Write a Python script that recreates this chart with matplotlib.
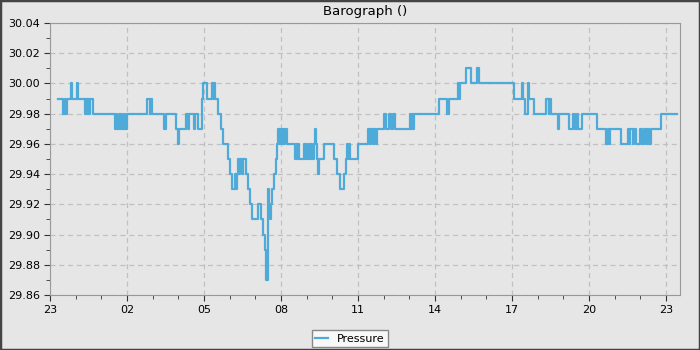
import numpy as np
import matplotlib.pyplot as plt
from matplotlib.patches import Rectangle
from matplotlib.ticker import MultipleLocator, FormatStrFormatter

hours = [0.32, 0.52, 0.57, 0.60, 0.65, 0.82, 0.86, 1.06, 1.10, 1.36, 1.40, 1.43,
         1.46, 1.52, 1.55, 1.66, 2.53, 2.58, 2.62, 2.68, 2.72, 2.78, 2.82, 2.88,
         2.92, 2.99, 3.77, 3.88, 3.92, 3.98, 4.44, 4.51, 4.92, 4.97, 5.01, 5.31,
         5.38, 5.41, 5.62, 5.66, 5.75, 5.92, 5.94, 5.97, 6.12, 6.30, 6.35, 6.38,
         6.42, 6.55, 6.68, 6.75, 6.95, 7.03, 7.10, 7.20, 7.24, 7.27, 7.33, 7.38,
         7.42, 7.46, 7.50, 7.62, 7.73, 7.79, 7.88, 8.12, 8.20, 8.31, 8.36, 8.41,
         8.48, 8.51, 8.54, 8.57, 8.60, 8.66, 8.72, 8.79, 8.85, 8.90, 8.94, 8.97,
         9.03, 9.07, 9.12, 9.16, 9.22, 9.29, 9.55, 9.58, 9.62, 9.66, 9.70, 9.90,
         9.94, 9.98, 10.03, 10.07, 10.12, 10.16, 10.22, 10.28, 10.32, 10.36, 10.40,
         10.42, 10.46, 10.66, 11.08, 11.18, 11.31, 11.44, 11.52, 11.58, 11.62,
         11.66, 11.70, 11.98, 12.40, 12.46, 12.50, 12.58, 12.62, 12.68, 12.74,
         13.02, 13.08, 13.22, 13.28, 13.38, 13.44, 14.02, 14.06, 14.10, 14.14,
         14.18, 15.14, 15.48, 15.55, 15.88, 15.92, 15.96, 16.22, 16.40, 16.64,
         16.70, 18.08, 18.38, 18.42, 18.52, 18.60, 18.62, 18.66, 18.86, 19.32,
         19.42, 19.45, 19.52, 19.78, 19.84, 20.20, 20.38, 20.44, 20.52, 20.56,
         20.74, 21.30, 21.64, 21.72, 21.76, 21.82, 22.26, 22.50, 22.55, 22.60,
         22.70, 22.76, 22.84, 22.98, 23.06, 23.12, 23.20, 23.26, 23.32, 23.40,
         23.80, 24.43]
pressure = [29.99, 29.98, 29.99, 29.98, 29.99, 30.00, 29.99, 30.00, 29.99, 29.98, 29.99, 29.98,
            29.99, 29.98, 29.99, 29.98, 29.97, 29.98, 29.97, 29.98, 29.97, 29.98, 29.97, 29.98,
            29.97, 29.98, 29.99, 29.98, 29.99, 29.98, 29.97, 29.98, 29.97, 29.96, 29.97, 29.98,
            29.97, 29.98, 29.97, 29.98, 29.97, 29.98, 29.99, 30.00, 29.99, 30.00, 29.99, 30.00,
            29.99, 29.98, 29.97, 29.96, 29.95, 29.94, 29.93, 29.94, 29.93, 29.94, 29.95, 29.94,
            29.95, 29.94, 29.95, 29.94, 29.93, 29.92, 29.91, 29.92, 29.91, 29.90, 29.89, 29.87,
            29.88, 29.93, 29.92, 29.91, 29.92, 29.93, 29.94, 29.95, 29.96, 29.97, 29.96, 29.97,
            29.96, 29.97, 29.96, 29.97, 29.96, 29.96, 29.95, 29.96, 29.95, 29.96, 29.95, 29.96,
            29.95, 29.96, 29.95, 29.96, 29.95, 29.96, 29.95, 29.96, 29.97, 29.96, 29.95,
            29.94, 29.95, 29.96, 29.95, 29.94, 29.93, 29.94, 29.95, 29.96, 29.95,
            29.96, 29.95, 29.96, 29.97, 29.96, 29.97, 29.96, 29.97, 29.96, 29.97,
            29.98, 29.97, 29.98, 29.97, 29.98, 29.97, 29.98, 29.97, 29.98, 29.97,
            29.98, 29.99, 29.98, 29.99, 30.00, 29.99, 30.00, 30.01, 30.00, 30.01,
            30.00, 29.99, 30.00, 29.99, 29.98, 29.99, 30.00, 29.99, 29.98, 29.99,
            29.98, 29.99, 29.98, 29.97, 29.98, 29.97, 29.98, 29.97, 29.98, 29.97,
            29.98, 29.97, 29.96, 29.97, 29.96, 29.97, 29.96, 29.97, 29.96, 29.97,
            29.96, 29.97, 29.96, 29.97, 29.96, 29.97, 29.96, 29.97, 29.96, 29.97,
            29.98, 29.98]

tick_hours = [0, 3, 6, 9, 12, 15, 18, 21, 24]
tick_labels = ['23', '02', '05', '08', '11', '14', '17', '20', '23']

bg = '#e6e6e6'
line_col = '#4eaad8'

fig = plt.figure(figsize=(7, 3.5), dpi=100)
fig.patch.set_facecolor(bg)
fig.patches.append(Rectangle((0, 0), 1, 1, transform=fig.transFigure,
                             fill=False, edgecolor='#444444', linewidth=2.5))

ax = fig.add_axes([50/700, 1 - 295/350, 630/700, 272/350])
ax.set_facecolor(bg)

ax.plot(hours, pressure, drawstyle='steps-post', color=line_col, lw=1.6,
        label='Pressure')

ax.set_xlim(0, 24.54)
ax.set_ylim(29.86, 30.04)
ax.set_xticks(tick_hours)
ax.set_xticklabels(tick_labels)
ax.xaxis.set_minor_locator(MultipleLocator(1))
ax.yaxis.set_major_locator(MultipleLocator(0.02))
ax.yaxis.set_minor_locator(MultipleLocator(0.01))
ax.yaxis.set_major_formatter(FormatStrFormatter('%.2f'))

for s in ax.spines.values():
    s.set_color('#999999')
ax.tick_params(which='major', length=4, color='#333333', labelsize=8, pad=3)
ax.tick_params(which='minor', length=3, color='#333333')
ax.grid(True, which='major', linestyle=(0, (4, 3)), color='#c0c0c0', lw=0.9)

ax.set_title('Barograph ()', fontsize=9.5, pad=6)

leg = fig.legend(loc='lower center', bbox_to_anchor=(0.5, 0.009), fontsize=8,
                 fancybox=False, framealpha=1, handlelength=1.2,
                 borderpad=0.3, handletextpad=0.8, borderaxespad=0)
leg.get_frame().set_facecolor('#f8f8f8')
leg.get_frame().set_edgecolor('#888888')

plt.savefig('out.png', dpi=100, facecolor=bg)
